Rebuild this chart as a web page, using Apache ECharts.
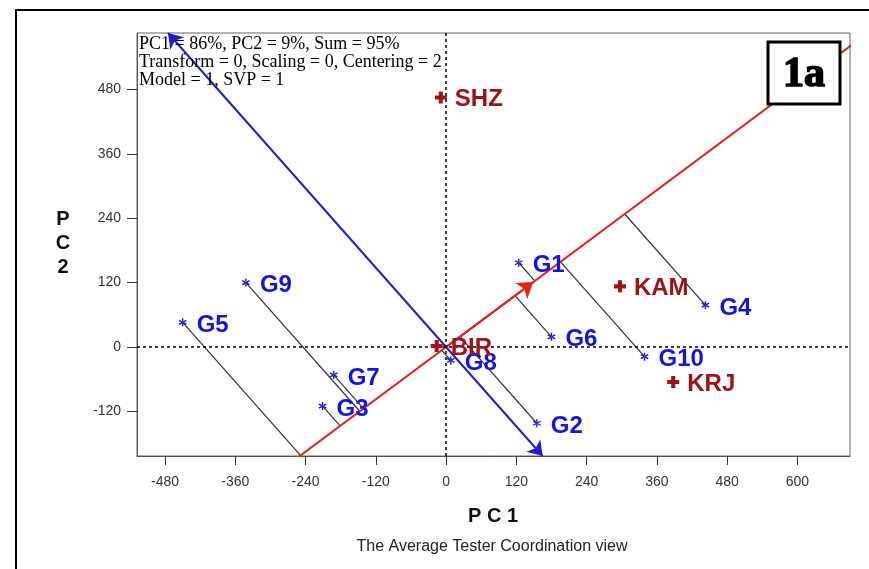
<!DOCTYPE html>
<html>
<head>
<meta charset="utf-8">
<script src="https://cdn.jsdelivr.net/npm/echarts@6/dist/echarts.min.js"></script>
<style>html,body{margin:0;padding:0;background:#fff}#c{width:869px;height:569px}</style>
</head>
<body>
<div id="c"></div>
<script>
// ---- data ----
const genotypeNames = ['G1','G2','G3','G4','G5','G6','G7','G8','G9','G10'];
const genotypePC1   = [124, 155, -211, 443, -450, 180, -192, 8, -342, 339];
const genotypePC2   = [157, -142, -110, 78, 46, 19, -52, -25, 120, -18];
const envNames = ['SHZ','KAM','KRJ','BIR'];
const envPC1   = [-9, 297, 388, -16];
const envPC2   = [465, 113, -65, 2];
const avgEnv   = [149, 121];           // average environment (arrow tip on ATC abscissa)
const xTicks = [-480,-360,-240,-120,0,120,240,360,480,600];
const yTicks = [-120,0,120,240,360,480];
const xRange = [-528, 690];
const yRange = [-203, 585];
const infoLines = ['PC1 = 86%, PC2 = 9%, Sum = 95%','Transform = 0, Scaling = 0, Centering = 2','Model = 1, SVP = 1'];

// ---- derived geometry ----
const len = Math.hypot(avgEnv[0], avgEnv[1]);
const u = [avgEnv[0]/len, avgEnv[1]/len];
const projLines = genotypeNames.map((n,i)=>{
  const g=[genotypePC1[i], genotypePC2[i]];
  const t=g[0]*u[0]+g[1]*u[1];
  return {coords:[g,[t*u[0],t*u[1]]]};
});
const redLine = [[-2000*u[0],-2000*u[1]],[2000*u[0],2000*u[1]]];
function perpPoint(yv){ return [-yv*u[1]/u[0], yv]; }
const blueStart = perpPoint(yRange[1]);
const blueEnd = perpPoint(yRange[0]);

const asterisk = 'path://M-1,-6 L1,-6 L1,6 L-1,6 Z M4.696,3.866 L5.696,2.134 L-4.696,-3.866 L-5.696,-2.134 Z M-5.696,2.134 L-4.696,3.866 L5.696,-2.134 L4.696,-3.866 Z';
const plus = 'path://M-1.7,-5 L1.7,-5 L1.7,-1.7 L5,-1.7 L5,1.7 L1.7,1.7 L1.7,5 L-1.7,5 L-1.7,1.7 L-5,1.7 L-5,-1.7 L-1.7,-1.7 Z';

const BLUE='#1414e0', BLUELINE='#2020c8', RED='#e8201a', DARKRED='#a01216';
const chart = echarts.init(document.getElementById('c'), null, {renderer:'canvas'});
chart.setOption({
  animation:false,
  backgroundColor:'#fff',
  grid:{left:137, top:33, right:19, bottom:113, show:true, borderColor:'#666', borderWidth:1, outerBoundsMode:'none'},
  xAxis:{type:'value', min:xRange[0], max:xRange[1],
    axisLine:{show:true, onZero:false, lineStyle:{color:'#555'}},
    axisTick:{show:true, customValues:xTicks, length:9, lineStyle:{color:'#333'}},
    axisLabel:{customValues:xTicks, fontSize:14, color:'#333', margin:19, fontFamily:'Liberation Sans'},
    splitLine:{show:false}},
  yAxis:{type:'value', min:yRange[0], max:yRange[1],
    axisLine:{show:true, onZero:false, lineStyle:{color:'#555'}},
    axisTick:{show:true, customValues:yTicks, length:10, lineStyle:{color:'#333'}},
    axisLabel:{customValues:yTicks, fontSize:14, color:'#333', margin:16, fontFamily:'Liberation Sans'},
    splitLine:{show:false}},
  graphic:[
    {type:'rect', z:100, shape:{x:16,y:10,width:900,height:600}, style:{fill:'none', stroke:'#000', lineWidth:2}, silent:true},
    {type:'text', z:100, x:139, y:35, style:{text:infoLines.join('\n'), fontSize:18, fontFamily:'Liberation Serif', fill:'#000', lineHeight:18}},
    {type:'rect', z:100, shape:{x:768,y:42,width:72,height:62}, style:{fill:'#fff', stroke:'#000', lineWidth:3}},
    {type:'text', z:101, x:804, y:75, style:{text:'1a', fontSize:42, fontWeight:'bold', fontFamily:'Liberation Serif', fill:'#000', stroke:'#000', lineWidth:1.6, align:'center', verticalAlign:'middle'}},
    {type:'text', z:100, x:493, y:516, style:{text:'P C 1', fontSize:20, fontWeight:'bold', fontFamily:'Liberation Sans', fill:'#111', align:'center', verticalAlign:'middle'}},
    {type:'text', z:100, x:63, y:243, style:{text:'P\nC\n2', fontSize:20, fontWeight:'bold', fontFamily:'Liberation Sans', fill:'#111', align:'center', verticalAlign:'middle', lineHeight:24}},
    {type:'text', z:100, x:492, y:547, style:{text:'The Average Tester Coordination view', fontSize:16, fontFamily:'Liberation Sans', fill:'#222', align:'center', verticalAlign:'middle'}}
  ],
  series:[
    {type:'line', data:[], silent:true, markLine:{silent:true, symbol:'none', label:{show:false},
      lineStyle:{color:'#000', type:[3,3], width:1.5}, data:[{xAxis:0},{yAxis:0}]}},
    {type:'lines', coordinateSystem:'cartesian2d', silent:true, z:3,
      lineStyle:{color:'#333', width:1.2, opacity:1}, data:projLines},
    {type:'line', data:redLine, symbol:'none', clip:true, silent:true, z:4, lineStyle:{color:RED, width:2}},
    {type:'lines', coordinateSystem:'cartesian2d', silent:true, z:4, symbol:['none','arrow'], symbolSize:15,
      lineStyle:{color:RED, width:2, opacity:1}, data:[{coords:[[0,0],avgEnv]}]},
    {type:'lines', coordinateSystem:'cartesian2d', silent:true, z:4, symbol:['arrow','arrow'], symbolSize:14,
      lineStyle:{color:BLUELINE, width:2, opacity:1}, data:[{coords:[blueStart,blueEnd]}]},
    {type:'scatter', z:6, symbol:asterisk, symbolSize:8, itemStyle:{color:BLUE, opacity:1},
      data:genotypeNames.map((n,i)=>({name:n, value:[genotypePC1[i],genotypePC2[i]]})),
      label:{show:true, position:'right', distance:10, offset:[0,3], formatter:'{b}', color:BLUE, opacity:1, fontSize:24, fontWeight:'bold', fontFamily:'Liberation Sans'}},
    {type:'scatter', z:6, symbol:plus, symbolSize:12, itemStyle:{color:DARKRED, opacity:1},
      data:envNames.map((n,i)=>({name:n, value:[envPC1[i],envPC2[i]]})),
      label:{show:true, position:'right', distance:8, offset:[0,2], formatter:'{b}', color:DARKRED, opacity:1, fontSize:24, fontWeight:'bold', fontFamily:'Liberation Sans'}}
  ]
});
</script>
</body>
</html>
